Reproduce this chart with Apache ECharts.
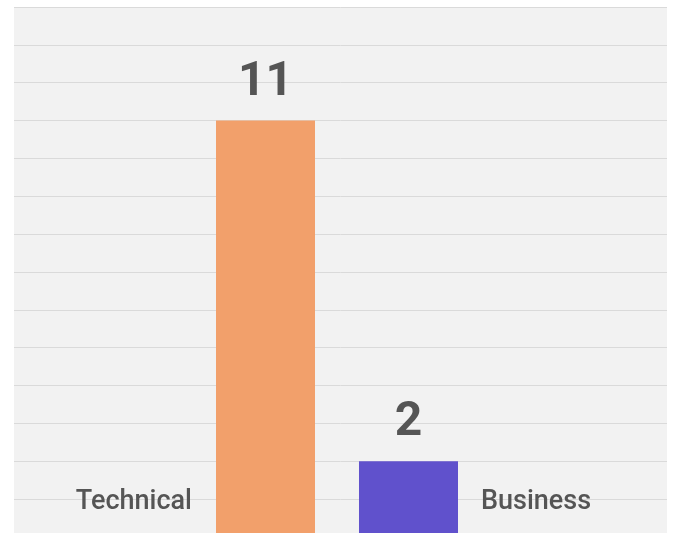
<!DOCTYPE html>
<html>
<head>
<meta charset="utf-8">
<script src="https://cdn.jsdelivr.net/npm/echarts@6/dist/echarts.min.js"></script>
<style>
html,body{margin:0;padding:0;background:#ffffff;}
#chart{width:674px;height:533px;}
</style>
</head>
<body>
<div id="chart"></div>
<script>
const categories = ['Technical', 'Business'];
const values = [11, 2];
const barColors = ['#f2a06b', '#6051cc'];
const yMin = 0, yMax = 14, yInterval = 1;

const chart = echarts.init(document.getElementById('chart'), null, {renderer: 'canvas'});
const font = 'Roboto, "Noto Sans", sans-serif';
const textColor = '#555555';

function valueLabel() {
  return {show: true, position: 'top', distance: 14, fontFamily: font, fontSize: 48,
    fontWeight: 'bold', color: textColor};
}
function nameLabel(i) {
  const left = i === 0;
  return {show: true, position: left ? 'insideBottomLeft' : 'insideBottomRight', distance: 0,
    align: left ? 'right' : 'left', verticalAlign: 'middle', offset: [left ? -24 : 23, -35],
    formatter: '{a}', fontFamily: font, fontSize: 27, fontWeight: 500, color: textColor};
}

const series = [];
categories.forEach((c, i) => {
  series.push({type: 'bar', name: c, xAxisIndex: 1, yAxisIndex: 1, data: [values[i]],
    barWidth: 99, barGap: '44.44%', itemStyle: {color: barColors[i]}, label: valueLabel(),
    silent: true, animation: false});
});
categories.forEach((c, i) => {
  series.push({type: 'bar', name: c, xAxisIndex: 2, yAxisIndex: 2, data: [values[i]],
    barWidth: 99, barGap: '44.44%', itemStyle: {color: 'rgba(0,0,0,0)'}, label: nameLabel(i),
    silent: true, animation: false});
});

const hiddenY = (g) => ({type: 'value', gridIndex: g, min: yMin, max: yMax, interval: yInterval, show: false});
const hiddenX = (g) => ({type: 'category', gridIndex: g, data: [''], show: false});

chart.setOption({
  animation: false,
  backgroundColor: '#ffffff',
  grid: [
    {left: 14, right: 7, top: 7, height: 530, show: true, backgroundColor: '#f2f2f2', borderWidth: 0, outerBoundsMode: 'none', containLabel: false},
    {left: 14, right: 14, top: 7, height: 530, outerBoundsMode: 'none', containLabel: false},
    {left: 14, right: 14, top: 7, height: 530, outerBoundsMode: 'none', containLabel: false}
  ],
  xAxis: [
    {type: 'category', gridIndex: 0, data: [''], axisLine: {show: false}, axisTick: {show: false}, axisLabel: {show: false}},
    hiddenX(1), hiddenX(2)
  ],
  yAxis: [
    {type: 'value', gridIndex: 0, min: yMin, max: yMax, interval: yInterval,
      axisLine: {show: false}, axisTick: {show: false}, axisLabel: {show: false},
      splitLine: {show: true, lineStyle: {color: '#dadada', width: 1}}},
    hiddenY(1), hiddenY(2)
  ],
  series: series
});
</script>
</body>
</html>
